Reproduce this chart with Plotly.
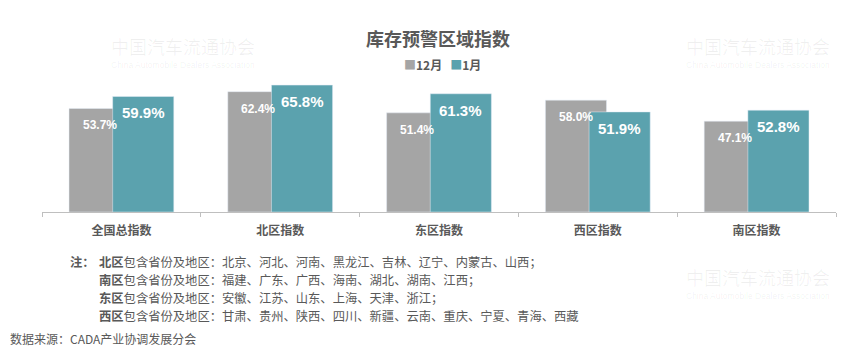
import plotly.graph_objects as go

categories = ["全国总指数", "北区指数", "东区指数", "西区指数", "南区指数"]
dec_values = [53.7, 62.4, 51.4, 58.0, 47.1]
jan_values = [59.9, 65.8, 61.3, 51.9, 52.8]
series_names = ["12月", "1月"]
title_text = "库存预警区域指数"
notes = [
    ("北区", "包含省份及地区：北京、河北、河南、黑龙江、吉林、辽宁、内蒙古、山西；"),
    ("南区", "包含省份及地区：福建、广东、广西、海南、湖北、湖南、江西；"),
    ("东区", "包含省份及地区：安徽、江苏、山东、上海、天津、浙江；"),
    ("西区", "包含省份及地区：甘肃、贵州、陕西、四川、新疆、云南、重庆、宁夏、青海、西藏"),
]
source_text = "数据来源：CADA产业协调发展分会"

GRAY = "#A5A5A5"
TEAL = "#5BA2AE"
TXT = "#595959"
W, H = 865, 354
ML, MR, MT, MB = 42, 29, 77, 142
PW, PH = W - ML - MR, H - MT - MB
CJK = "Noto Sans CJK SC, Noto Sans, sans-serif"
LAB = "Liberation Sans, Arial, sans-serif"

def px_x(px):
    return (px - ML) / PW

def px_y(py):
    return (H - MB - py) / PH

BAR_W = 0.385
OFF_DEC = -0.33
OFF_JAN = -0.055
xs = list(range(len(categories)))

fig = go.Figure()
fig.add_trace(go.Bar(x=xs, y=dec_values, name=series_names[0], marker_color=GRAY,
                     width=BAR_W, offset=OFF_DEC, hoverinfo="skip"))
fig.add_trace(go.Bar(x=xs, y=jan_values, name=series_names[1], marker_color=TEAL,
                     width=BAR_W, offset=OFF_JAN, hoverinfo="skip"))

ann = []

# faint watermarks in the clear areas
wm = [(183, 46, 65), (758, 46, 65), (758, 277, 296)]
for cx, y1, y2 in wm:
    ann.append(dict(x=px_x(cx), y=px_y(y1), xref="paper", yref="paper", showarrow=False,
                    xanchor="center", yanchor="middle",
                    text="中国汽车流通协会", font=dict(family=CJK, size=18, color="rgba(0,0,0,0.06)")))
    ann.append(dict(x=px_x(cx), y=px_y(y2), xref="paper", yref="paper", showarrow=False,
                    xanchor="center", yanchor="middle",
                    text="China Automobile Dealers Association",
                    font=dict(family=LAB, size=8.5, color="rgba(0,0,0,0.06)")))

for i, v in enumerate(dec_values):
    ann.append(dict(x=i + OFF_DEC + BAR_W / 2, y=v, xref="x", yref="y", yanchor="top",
                    xanchor="center", yshift=-8, showarrow=False, text=f"<b>{v:.1f}%</b>",
                    font=dict(family=LAB, size=12, color="white")))
for i, v in enumerate(jan_values):
    ann.append(dict(x=i + OFF_JAN + BAR_W / 2, y=v, xref="x", yref="y", yanchor="top",
                    xanchor="center", yshift=-6, showarrow=False, text=f"<b>{v:.1f}%</b>",
                    font=dict(family=LAB, size=15, color="white")))

# title
ann.append(dict(x=px_x(438), y=px_y(38), xref="paper", yref="paper", showarrow=False,
                xanchor="center", yanchor="middle",
                text=f"<b>{title_text}</b>", font=dict(family=CJK, size=18, color=TXT)))
# legend
ann.append(dict(x=px_x(442), y=px_y(64), xref="paper", yref="paper", showarrow=False,
                xanchor="center", yanchor="middle",
                text=(f'<span style="color:{GRAY}">■</span><b>{series_names[0]}</b>   '
                      f'<span style="color:{TEAL}">■</span><b>{series_names[1]}</b>'),
                font=dict(family=CJK, size=12, color=TXT)))
# notes
ann.append(dict(x=px_x(97), y=px_y(262), xref="paper", yref="paper", showarrow=False,
                xanchor="right", yanchor="middle", text="<b>注：</b>",
                font=dict(family=CJK, size=12.3, color=TXT)))
for k, (reg, rest) in enumerate(notes):
    ann.append(dict(x=px_x(97), y=px_y(262 + 18 * k), xref="paper", yref="paper", showarrow=False,
                    xanchor="left", yanchor="middle", text=f"<b>{reg}</b>{rest}",
                    font=dict(family=CJK, size=12.3, color=TXT)))
ann.append(dict(x=px_x(8), y=px_y(338), xref="paper", yref="paper", showarrow=False,
                xanchor="left", yanchor="middle", text=source_text,
                font=dict(family=CJK, size=12, color=TXT)))

fig.update_layout(
    width=W, height=H, margin=dict(l=ML, r=MR, t=MT, b=MB),
    paper_bgcolor="white", plot_bgcolor="white", barmode="overlay",
    showlegend=False, annotations=ann,
    xaxis=dict(range=[-0.5, len(categories) - 0.5], tickvals=xs, ticktext=categories,
               ticks="", showgrid=False, zeroline=False, showline=True,
               linecolor="#BFBFBF", linewidth=1,
               tickfont=dict(family=CJK, size=12, color=TXT, weight="bold"),
               ticklabelstandoff=8,
               minor=dict(tickvals=[i - 0.5 for i in range(len(categories) + 1)],
                          ticks="outside", ticklen=4, tickcolor="#BFBFBF", showgrid=False)),
    yaxis=dict(range=[0, 70], visible=False, showgrid=False, zeroline=False),
)
fig.write_html("out.html")
